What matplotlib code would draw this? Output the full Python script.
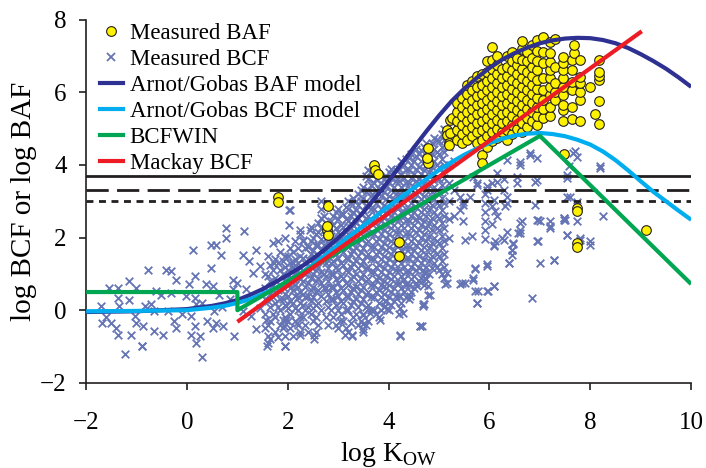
## log BCF / log BAF vs log Kow with model curves

import numpy as np
import matplotlib
matplotlib.use('Agg')
import matplotlib.pyplot as plt
from matplotlib.lines import Line2D

plt.rcParams['font.family'] = ['Liberation Serif', 'DejaVu Serif']
plt.rcParams['mathtext.fontset'] = 'custom'
plt.rcParams['mathtext.rm'] = 'Liberation Serif'

### model curves
baf_model_x = [-2, -1, 0, 0.5, 0.75, 1, 1.25, 1.5, 1.75, 2, 2.25, 2.5, 2.75, 3, 3.25, 3.5, 3.75, 4, 4.25, 4.5,
               4.75, 5, 5.25, 5.5, 5.75, 6, 6.25, 6.5, 6.75, 7, 7.25, 7.5, 7.75, 8, 8.25, 8.5, 8.75, 9, 9.25,
               9.5, 9.75, 10]
baf_model_y = [-0.05, -0.03, 0.03, 0.12, 0.19, 0.28, 0.42, 0.58, 0.77, 0.97, 1.18, 1.42, 1.69, 1.99, 2.32, 2.7,
               3.12, 3.56, 4.02, 4.48, 4.93, 5.36, 5.76, 6.1, 6.4, 6.67, 6.9, 7.08, 7.23, 7.35, 7.43, 7.48, 7.5,
               7.49, 7.44, 7.35, 7.22, 7.05, 6.86, 6.65, 6.41, 6.15]
bcf_model_x = [-2, -1, 0, 0.5, 0.75, 1, 1.25, 1.5, 1.75, 2, 2.25, 2.5, 2.75, 3, 3.5, 4, 4.5, 5, 5.25, 5.5, 5.75,
               6, 6.25, 6.5, 6.75, 7, 7.25, 7.5, 7.75, 8, 8.25, 8.5, 8.75, 9, 9.25, 9.5, 9.75, 10]
bcf_model_y = [-0.03, -0.02, 0.0, 0.07, 0.12, 0.2, 0.3, 0.45, 0.6, 0.8, 1.0, 1.25, 1.52, 1.8, 2.33, 2.86, 3.37,
               3.86, 4.08, 4.28, 4.45, 4.6, 4.72, 4.81, 4.86, 4.88, 4.85, 4.79, 4.69, 4.56, 4.37, 4.13, 3.85,
               3.55, 3.26, 3.0, 2.74, 2.49]
bcfwin_x = [-2, 1, 1, 7, 10]
bcfwin_y = [0.5, 0.5, 0.0, 4.8, 0.72]
mackay_x = [1, 9.02]
mackay_y = [-0.32, 7.68]

### regulatory thresholds
threshold_solid = 3.7
threshold_dashed = 3.3
threshold_dotted = 3.0

### measured BCF (estimated from the figure)
bcf_pts = [
    # sparse, low Kow
    (-1.70, 0.11), (-1.68, -0.35), (-1.54, 0.61), (-1.37, 0.61), (-1.37, 0.34), (-1.34, 0.11),
    (-1.50, -0.35), (-1.41, -0.48), (-1.37, -0.67), (-1.15, 0.80), (-1.01, 0.61), (-1.14, 0.29),
    (-1.04, -0.16), (-1.01, -0.35), (-1.11, -0.67), (-0.88, -0.44), (-0.84, 0.11), (-1.22, -1.22),
    (-0.89, -0.99), (-0.78, 1.12), (-0.71, 0.16), (-0.65, -0.03), (-0.61, 0.52), (-0.65, -0.58),
    (-0.48, -0.67), (-0.41, 1.12), (-0.31, 1.07), (-0.22, 0.84), (-0.51, 0.43), (-0.31, 0.48),
    (-0.25, -0.30), (-0.22, -0.48), (-0.38, -0.03), (-0.02, 0.38), (0.05, 0.71), (0.15, 0.93),
    (0.11, 1.67), (0.15, 0.34), (0.18, 0.16), (0.08, -0.16), (0.15, -0.44), (0.25, -0.71),
    (0.08, -0.67), (0.18, -0.90), (0.29, -1.29), (0.48, 1.80), (0.58, 1.80), (0.68, 1.53),
    (0.78, 2.26), (0.78, 1.99), (0.48, 1.16), (0.38, 0.71), (0.51, 0.66), (0.64, 0.43),
    (0.54, -0.03), (0.58, -0.35), (0.51, -0.48), (0.71, -0.44), (0.94, -0.71), (0.91, 0.84),
    (0.91, 0.57), (1.14, 2.17), (1.11, 1.53), (1.24, 1.35), (1.37, 1.67), (1.30, 1.03),
    (1.44, 1.21), (1.17, 0.57), (1.27, -0.16), (1.37, -0.53), (1.60, -0.71), (1.60, -0.90),
    (1.95, -0.99), (1.70, 1.85), (1.80, 1.90), (1.60, 1.48), (1.73, 1.30), (2.03, 2.77),
    (2.03, 2.35), (1.97, -0.26), (1.93, -0.44), (1.57, -0.26), (1.44, 0.07), (1.97, 0.11),
    (1.97, 0.84), (2.10, 1.30), (1.11, -0.03), (-0.90, -0.99), (1.58, -0.99), (0.30, 0.20),
    (0.70, 0.10), (0.85, 0.30), (1.00, 0.75), (-1.60, -0.20), (-0.10, -0.10), (0.40, -0.30),
    # dense cloud
    (1.55, -0.5), (1.55, -0.1), (1.55, 0.3), (1.55, 0.6), (1.55, 1.0),
    (1.65, -0.8), (1.65, -0.3), (1.65, 0.1), (1.65, 0.45), (1.65, 0.8), (1.65, 1.25),
    (1.75, -0.6), (1.75, -0.2), (1.75, 0.2), (1.75, 0.5), (1.75, 0.9), (1.75, 1.4),
    (1.85, -0.4), (1.85, 0.0), (1.85, 0.3), (1.85, 0.7), (1.85, 1.1), (1.85, 1.6),
    (1.95, -0.7), (1.95, -0.2), (1.95, 0.15), (1.95, 0.45), (1.95, 0.8), (1.95, 1.2), (1.95, 1.5), (1.95, 2.0),
    (2.05, -0.5), (2.05, -0.1), (2.05, 0.25), (2.05, 0.6), (2.05, 0.9), (2.05, 1.3), (2.05, 1.7),
    (2.15, -0.3), (2.15, 0.05), (2.15, 0.4), (2.15, 0.7), (2.15, 1.0), (2.15, 1.4), (2.15, 1.9),
    (2.25, -0.6), (2.25, -0.2), (2.25, 0.2), (2.25, 0.5), (2.25, 0.85), (2.25, 1.15), (2.25, 1.5), (2.25, 2.1),
    (2.35, -0.4), (2.35, 0.0), (2.35, 0.35), (2.35, 0.65), (2.35, 1.0), (2.35, 1.3), (2.35, 1.7),
    (2.45, -0.1), (2.45, 0.25), (2.45, 0.55), (2.45, 0.9), (2.45, 1.2), (2.45, 1.55), (2.45, 1.9), (2.45, 2.3),
    (2.55, -0.6), (2.55, -0.2), (2.55, 0.15), (2.55, 0.5), (2.55, 0.8), (2.55, 1.1), (2.55, 1.45), (2.55, 1.8), (2.55, 2.1),
    (2.65, 0.0), (2.65, 0.4), (2.65, 0.75), (2.65, 1.05), (2.65, 1.35), (2.65, 1.65), (2.65, 1.95), (2.65, 2.25),
    (2.65, 2.55), (2.65, 2.8), (2.65, 3.0),
    (2.72, 0.6), (2.72, 1.0), (2.72, 1.4), (2.72, 1.8), (2.72, 2.2), (2.72, 2.6),
    (2.8, -0.4), (2.8, 0.1), (2.8, 0.45), (2.8, 0.8), (2.8, 1.15), (2.8, 1.5), (2.8, 1.85), (2.8, 2.2),
    (2.9, -0.2), (2.9, 0.3), (2.9, 0.65), (2.9, 1.0), (2.9, 1.35), (2.9, 1.7), (2.9, 2.0), (2.9, 2.35), (2.9, 2.6),
    (3.0, -0.5), (3.0, 0.0), (3.0, 0.4), (3.0, 0.75), (3.0, 1.1), (3.0, 1.45), (3.0, 1.8), (3.0, 2.15), (3.0, 2.5), (3.0, 2.8),
    (3.1, -0.3), (3.1, 0.2), (3.1, 0.55), (3.1, 0.9), (3.1, 1.25), (3.1, 1.6), (3.1, 1.95), (3.1, 2.3), (3.1, 2.65),
    (3.2, -0.6), (3.2, 0.0), (3.2, 0.35), (3.2, 0.7), (3.2, 1.05), (3.2, 1.4), (3.2, 1.75), (3.2, 2.1), (3.2, 2.45),
    (3.2, 2.8), (3.2, 3.0),
    (3.3, -0.2), (3.3, 0.25), (3.3, 0.6), (3.3, 0.95), (3.3, 1.3), (3.3, 1.65), (3.3, 2.0), (3.3, 2.35), (3.3, 2.7), (3.3, 3.1),
    (3.4, -0.4), (3.4, 0.1), (3.4, 0.45), (3.4, 0.8), (3.4, 1.15), (3.4, 1.5), (3.4, 1.85), (3.4, 2.2), (3.4, 2.55),
    (3.4, 2.9), (3.4, 3.2),
    (3.5, -0.6), (3.5, -0.1), (3.5, 0.3), (3.5, 0.65), (3.5, 1.0), (3.5, 1.35), (3.5, 1.7), (3.5, 2.05), (3.5, 2.4),
    (3.5, 2.75), (3.5, 3.1), (3.5, 3.4),
    (3.6, -0.3), (3.6, 0.15), (3.6, 0.5), (3.6, 0.85), (3.6, 1.2), (3.6, 1.55), (3.6, 1.9), (3.6, 2.25), (3.6, 2.6),
    (3.6, 2.95), (3.6, 3.3), (3.6, 3.6), (3.6, 3.85),
    (3.7, 0.0), (3.7, 0.35), (3.7, 0.7), (3.7, 1.05), (3.7, 1.4), (3.7, 1.75), (3.7, 2.1), (3.7, 2.45), (3.7, 2.8),
    (3.7, 3.15), (3.7, 3.5),
    (3.8, -0.2), (3.8, 0.2), (3.8, 0.55), (3.8, 0.9), (3.8, 1.25), (3.8, 1.6), (3.8, 1.95), (3.8, 2.3), (3.8, 2.65),
    (3.8, 3.0), (3.8, 3.35),
    (3.9, 0.1), (3.9, 0.45), (3.9, 0.8), (3.9, 1.15), (3.9, 1.5), (3.9, 1.85), (3.9, 2.2), (3.9, 2.55), (3.9, 2.9),
    (3.9, 3.25), (3.9, 3.6),
    (4.0, 0.0), (4.0, 0.35), (4.0, 0.7), (4.0, 1.05), (4.0, 1.4), (4.0, 1.75), (4.0, 2.1), (4.0, 2.45), (4.0, 2.8),
    (4.0, 3.15), (4.0, 3.5), (4.0, 3.8),
    (4.1, 0.25), (4.1, 0.6), (4.1, 0.95), (4.1, 1.3), (4.1, 1.65), (4.1, 2.0), (4.1, 2.35), (4.1, 2.7), (4.1, 3.05),
    (4.1, 3.4), (4.1, 3.75),
    (4.2, -0.1), (4.2, 0.4), (4.2, 0.75), (4.2, 1.1), (4.2, 1.45), (4.2, 1.8), (4.2, 2.15), (4.2, 2.5), (4.2, 2.85),
    (4.2, 3.2), (4.2, 3.55), (4.2, 3.9),
    (4.3, 0.5), (4.3, 0.85), (4.3, 1.2), (4.3, 1.55), (4.3, 1.9), (4.3, 2.25), (4.3, 2.6), (4.3, 2.95), (4.3, 3.3),
    (4.3, 3.65), (4.3, 4.0),
    (4.4, 0.3), (4.4, 0.7), (4.4, 1.05), (4.4, 1.4), (4.4, 1.75), (4.4, 2.1), (4.4, 2.45), (4.4, 2.8), (4.4, 3.15),
    (4.4, 3.5), (4.4, 3.85), (4.4, 4.2),
    (4.5, 0.6), (4.5, 0.95), (4.5, 1.3), (4.5, 1.65), (4.5, 2.0), (4.5, 2.35), (4.5, 2.7), (4.5, 3.05), (4.5, 3.4),
    (4.5, 3.75), (4.5, 4.1),
    (4.6, 0.8), (4.6, 1.15), (4.6, 1.5), (4.6, 1.85), (4.6, 2.2), (4.6, 2.55), (4.6, 2.9), (4.6, 3.25), (4.6, 3.6),
    (4.6, 3.95), (4.6, 4.3),
    (4.7, 0.7), (4.7, 1.05), (4.7, 1.4), (4.7, 1.75), (4.7, 2.1), (4.7, 2.45), (4.7, 2.8), (4.7, 3.15), (4.7, 3.5),
    (4.7, 3.85), (4.7, 4.2), (4.7, 4.5),
    (4.8, 1.0), (4.8, 1.35), (4.8, 1.7), (4.8, 2.05), (4.8, 2.4), (4.8, 2.75), (4.8, 3.1), (4.8, 3.45), (4.8, 3.8),
    (4.8, 4.15), (4.8, 4.5),
    (4.9, 1.3), (4.9, 1.65), (4.9, 2.0), (4.9, 2.35), (4.9, 2.7), (4.9, 3.05), (4.9, 3.4), (4.9, 3.75), (4.9, 4.1),
    (4.9, 4.45), (4.9, 4.75),
    (5.0, 1.1), (5.0, 1.5), (5.0, 1.85), (5.0, 2.2), (5.0, 2.55), (5.0, 2.9), (5.0, 3.25), (5.0, 3.6), (5.0, 3.95),
    (5.0, 4.3), (5.0, 4.65),
    (5.1, 0.9), (5.1, 1.2), (5.1, 1.55), (5.1, 1.9), (5.1, 2.25), (5.1, 2.6), (5.1, 2.95), (5.1, 3.3), (5.1, 3.65),
    (5.1, 4.0), (5.1, 4.35), (5.1, 4.7), (5.1, 5.0),
    (5.2, 2.0), (5.2, 2.5), (5.2, 3.0), (5.2, 3.5), (5.2, 4.0), (5.2, 4.5),
    (5.3, 2.6), (5.3, 3.3), (5.3, 4.1),
    (5.91, 1.95), (5.91, 2.2), (5.91, 2.45), (5.91, 2.7), (5.91, 2.95), (5.91, 3.2),
    # dense cloud, in-between columns
    (1.6, -0.4), (1.6, 0.25), (1.6, 0.95),
    (1.7, -0.1), (1.7, 0.35), (1.7, 0.7), (1.7, 1.1),
    (1.8, -0.75), (1.8, 0.1), (1.8, 0.55), (1.8, 1.3),
    (1.9, -0.5), (1.9, 0.3), (1.9, 0.65), (1.9, 1.0), (1.9, 1.35),
    (2.0, -0.3), (2.0, 0.05), (2.0, 0.4), (2.0, 0.75), (2.0, 1.1), (2.0, 1.5),
    (2.1, -0.7), (2.1, 0.2), (2.1, 0.55), (2.1, 0.85), (2.1, 1.2), (2.1, 1.6),
    (2.2, -0.4), (2.2, 0.0), (2.2, 0.35), (2.2, 0.65), (2.2, 1.0), (2.2, 1.3), (2.2, 1.7),
    (2.3, -0.2), (2.3, 0.15), (2.3, 0.45), (2.3, 0.8), (2.3, 1.1), (2.3, 1.45), (2.3, 1.9),
    (2.4, -0.6), (2.4, 0.1), (2.4, 0.4), (2.4, 0.75), (2.4, 1.05), (2.4, 1.4), (2.4, 1.75),
    (2.5, -0.3), (2.5, 0.05), (2.5, 0.35), (2.5, 0.65), (2.5, 1.0), (2.5, 1.3), (2.5, 1.65), (2.5, 2.0),
    (2.6, -0.4), (2.6, 0.2), (2.6, 0.55), (2.6, 0.9), (2.6, 1.2), (2.6, 1.5), (2.6, 1.8), (2.6, 2.15), (2.6, 2.4),
    (2.75, -0.2), (2.75, 0.25), (2.75, 0.6), (2.75, 0.95), (2.75, 1.3), (2.75, 1.65), (2.75, 2.0), (2.75, 2.4), (2.75, 2.9),
    (2.85, 0.0), (2.85, 0.3), (2.85, 0.65), (2.85, 1.0), (2.85, 1.3), (2.85, 1.65), (2.85, 2.05), (2.85, 2.45),
    (2.95, -0.4), (2.95, 0.15), (2.95, 0.5), (2.95, 0.85), (2.95, 1.2), (2.95, 1.55), (2.95, 1.9), (2.95, 2.25), (2.95, 2.7),
    (3.05, -0.1), (3.05, 0.25), (3.05, 0.6), (3.05, 0.95), (3.05, 1.3), (3.05, 1.65), (3.05, 2.0), (3.05, 2.35), (3.05, 2.65),
    (3.15, -0.5), (3.15, 0.0), (3.15, 0.4), (3.15, 0.75), (3.15, 1.1), (3.15, 1.45), (3.15, 1.8), (3.15, 2.15),
    (3.15, 2.5), (3.15, 2.85),
    (3.25, -0.35), (3.25, 0.15), (3.25, 0.5), (3.25, 0.85), (3.25, 1.2), (3.25, 1.55), (3.25, 1.9), (3.25, 2.25),
    (3.25, 2.6), (3.25, 2.95),
    (3.35, -0.1), (3.35, 0.3), (3.35, 0.65), (3.35, 1.0), (3.35, 1.35), (3.35, 1.7), (3.35, 2.05), (3.35, 2.4),
    (3.35, 2.75), (3.35, 3.0),
    (3.45, -0.3), (3.45, 0.2), (3.45, 0.55), (3.45, 0.9), (3.45, 1.25), (3.45, 1.6), (3.45, 1.95), (3.45, 2.3),
    (3.45, 2.65), (3.45, 3.0), (3.45, 3.3),
    (3.55, -0.4), (3.55, 0.1), (3.55, 0.45), (3.55, 0.8), (3.55, 1.15), (3.55, 1.5), (3.55, 1.85), (3.55, 2.2),
    (3.55, 2.55), (3.55, 2.9), (3.55, 3.25), (3.55, 3.7),
    (3.65, 0.0), (3.65, 0.35), (3.65, 0.7), (3.65, 1.05), (3.65, 1.4), (3.65, 1.75), (3.65, 2.1), (3.65, 2.45),
    (3.65, 2.8), (3.65, 3.15), (3.65, 3.45), (3.65, 3.8),
    (3.75, -0.1), (3.75, 0.5), (3.75, 0.85), (3.75, 1.2), (3.75, 1.55), (3.75, 1.9), (3.75, 2.25), (3.75, 2.6),
    (3.75, 2.95), (3.75, 3.3), (3.75, 3.6),
    (3.85, 0.0), (3.85, 0.35), (3.85, 0.7), (3.85, 1.05), (3.85, 1.4), (3.85, 1.75), (3.85, 2.1), (3.85, 2.45),
    (3.85, 2.8), (3.85, 3.15), (3.85, 3.5),
    (3.95, 0.25), (3.95, 0.6), (3.95, 0.95), (3.95, 1.3), (3.95, 1.65), (3.95, 2.0), (3.95, 2.35), (3.95, 2.7),
    (3.95, 3.05), (3.95, 3.4), (3.95, 3.7),
    (4.05, 0.15), (4.05, 0.5), (4.05, 0.85), (4.05, 1.2), (4.05, 1.55), (4.05, 1.9), (4.05, 2.25), (4.05, 2.6),
    (4.05, 2.95), (4.05, 3.3), (4.05, 3.65), (4.05, 3.9),
    (4.15, 0.4), (4.15, 0.75), (4.15, 1.1), (4.15, 1.45), (4.15, 1.8), (4.15, 2.15), (4.15, 2.5), (4.15, 2.85),
    (4.15, 3.2), (4.15, 3.55), (4.15, 3.85),
    (4.25, 0.2), (4.25, 0.6), (4.25, 0.95), (4.25, 1.3), (4.25, 1.65), (4.25, 2.0), (4.25, 2.35), (4.25, 2.7),
    (4.25, 3.05), (4.25, 3.4), (4.25, 3.75), (4.25, 4.1),
    (4.35, 0.35), (4.35, 0.7), (4.35, 1.05), (4.35, 1.4), (4.35, 1.75), (4.35, 2.1), (4.35, 2.45), (4.35, 2.8),
    (4.35, 3.15), (4.35, 3.5), (4.35, 3.85), (4.35, 4.15),
    (4.45, 0.5), (4.45, 0.85), (4.45, 1.2), (4.45, 1.55), (4.45, 1.9), (4.45, 2.25), (4.45, 2.6), (4.45, 2.95),
    (4.45, 3.3), (4.45, 3.65), (4.45, 4.0), (4.45, 4.3),
    (4.55, 0.75), (4.55, 1.1), (4.55, 1.45), (4.55, 1.8), (4.55, 2.15), (4.55, 2.5), (4.55, 2.85), (4.55, 3.2),
    (4.55, 3.55), (4.55, 3.9), (4.55, 4.25), (4.55, 4.45),
    (4.65, 0.9), (4.65, 1.3), (4.65, 1.65), (4.65, 2.0), (4.65, 2.35), (4.65, 2.7), (4.65, 3.05), (4.65, 3.4),
    (4.65, 3.75), (4.65, 4.1), (4.65, 4.4),
    (4.75, 0.85), (4.75, 1.2), (4.75, 1.55), (4.75, 1.9), (4.75, 2.25), (4.75, 2.6), (4.75, 2.95), (4.75, 3.3),
    (4.75, 3.65), (4.75, 4.0), (4.75, 4.35), (4.75, 4.6),
    (4.85, 1.15), (4.85, 1.5), (4.85, 1.85), (4.85, 2.2), (4.85, 2.55), (4.85, 2.9), (4.85, 3.25), (4.85, 3.6),
    (4.85, 3.95), (4.85, 4.3), (4.85, 4.6),
    (4.95, 1.2), (4.95, 1.55), (4.95, 1.9), (4.95, 2.25), (4.95, 2.6), (4.95, 2.95), (4.95, 3.3), (4.95, 3.65),
    (4.95, 4.0), (4.95, 4.35), (4.95, 4.7),
    (5.05, 1.0), (5.05, 1.35), (5.05, 1.7), (5.05, 2.05), (5.05, 2.4), (5.05, 2.75), (5.05, 3.1), (5.05, 3.45),
    (5.05, 3.8), (5.05, 4.15), (5.05, 4.5), (5.05, 4.85),
    # outliers low in the dense range
    (1.95, -0.99), (2.24, -0.67), (2.51, -0.67), (2.51, -0.80), (3.14, -0.67), (3.27, -0.67), (3.50, -0.39),
    (3.83, -0.26), (3.63, -0.07), (4.23, -0.67), (4.62, -0.44), (4.69, 0.16), (3.96, 0.02), (4.29, -0.07),
    (3.04, -0.30), (2.18, -0.35), (1.91, -0.26), (2.05, 2.77), (2.24, 2.22), (2.44, 2.22), (2.31, 1.94),
    (3.27, -0.71), (3.50, -0.53), (3.50, -0.12), (3.93, 0.11), (4.23, 0.07), (4.69, 0.11), (4.79, 0.43),
    (4.43, 0.39), (4.23, 0.39), (3.93, 0.25), (4.56, 0.66), (4.79, 0.66), (4.29, 0.84), (4.72, 1.03),
    (3.90, 0.66), (4.23, -0.71), (4.62, -0.44),
    # sparse, high Kow
    (4.69, 1.12), (4.72, 0.89), (4.82, 0.43), (4.70, 0.16), (4.66, -0.44), (5.12, 0.71), (5.42, 0.71),
    (5.52, 0.75), (5.68, 0.89), (5.71, 1.16), (5.95, 1.23), (5.78, 0.52), (5.75, 0.20), (5.98, 0.52),
    (6.08, 0.66), (6.38, 1.30), (6.44, 1.67), (6.47, 1.81), (6.44, 1.53), (6.61, 2.13), (6.61, 2.40),
    (6.84, 0.34), (6.97, 1.90), (7.00, 1.30), (6.97, 2.49), (7.00, 2.45), (7.20, 2.45), (7.20, 2.26),
    (7.27, 1.39), (7.47, 2.54), (7.53, 2.08), (5.52, 1.94), (5.65, 2.03), (6.08, 1.76), (6.11, 1.90),
    (6.24, 1.99), (6.05, 2.36), (6.14, 2.58), (6.11, 2.72), (6.05, 2.86), (5.48, 2.45), (5.42, 2.77),
    (5.48, 2.90), (6.31, 2.86), (6.34, 3.13), (6.28, 3.32), (6.54, 3.50), (6.54, 3.68), (6.61, 4.09),
    (6.90, 3.54), (6.90, 2.90), (6.81, 4.28), (6.94, 4.19), (6.64, 2.45), (5.95, 3.41), (6.05, 3.50),
    (6.14, 3.54), (5.68, 3.68), (5.75, 3.50), (5.42, 3.13), (5.48, 2.99), (5.61, 3.13),
    (7.70, 4.37), (7.73, 4.23), (7.57, 3.96), (7.53, 3.73), (8.19, 3.91), (7.60, 3.13), (7.73, 2.99),
    (7.47, 2.54), (7.50, 2.49), (7.73, 2.45), (8.25, 2.60), (7.53, 2.08), (7.80, 1.99), (7.99, 1.90),
    (7.99, 1.80), (7.73, 2.86), (5.75, 0.20), (5.95, 0.52), (5.71, 0.52), (5.45, 0.75), (5.15, 0.75),
    (5.15, 1.03), (5.68, 0.84), (6.08, 0.66), (5.95, 1.26), (5.71, 1.14), (6.38, 1.30), (7.27, 1.39),
    (6.47, 1.85), (6.44, 1.67), (6.08, 1.80), (6.28, 1.94), (6.57, 2.13), (6.94, 1.90), (7.80, 1.94),
    (6.81, 4.33), (7.66, 4.33), (7.53, 3.64), (6.94, 3.59), (8.19, 3.96), (6.61, 4.00), (6.34, 4.14),
    (6.14, 3.77), (6.28, 3.60), (6.08, 3.04), (6.34, 2.95), (5.75, 3.45), (5.95, 3.30), (7.53, 3.13),
    (6.94, 2.49), (7.20, 2.31), (7.47, 2.49), (6.61, 2.22), (6.34, 2.15),
]

### measured BAF (estimated from the figure)
baf_pts = [
    (1.80, 3.13), (1.80, 2.97), (2.80, 2.86), (2.77, 2.22), (2.80, 2.08), (2.77, 2.31), (3.70, 4.00),
    (3.73, 3.87), (3.78, 3.75), (4.21, 1.87), (4.21, 1.50), (4.79, 4.46), (4.79, 4.05), (4.76, 4.20),
    (5.15, 4.96), (5.15, 4.83), (5.19, 4.60), (5.22, 5.24), (5.85, 4.28), (5.85, 4.05), (7.73, 2.81),
    (7.73, 2.72), (7.73, 1.85), (7.73, 1.74), (9.11, 2.20), (7.47, 4.30), (5.42, 5.79), (5.25, 5.28),
    (5.22, 4.87), (5.19, 4.55),
    (5.35, 4.7), (5.35, 4.95), (5.35, 5.2), (5.35, 5.45), (5.35, 5.7),
    (5.45, 4.6), (5.45, 4.85), (5.45, 5.1), (5.45, 5.35), (5.45, 5.6), (5.45, 5.85),
    (5.55, 4.7), (5.55, 4.95), (5.55, 5.2), (5.55, 5.45), (5.55, 5.7), (5.55, 5.95), (5.55, 6.2),
    (5.65, 4.8), (5.65, 5.05), (5.65, 5.3), (5.65, 5.55), (5.65, 5.8), (5.65, 6.05), (5.65, 6.3),
    (5.75, 4.6), (5.75, 4.9), (5.75, 5.15), (5.75, 5.4), (5.75, 5.65), (5.75, 5.9), (5.75, 6.15), (5.75, 6.45),
    (5.85, 4.7), (5.85, 4.95), (5.85, 5.2), (5.85, 5.45), (5.85, 5.7), (5.85, 5.95), (5.85, 6.2), (5.85, 6.5),
    (5.95, 4.5), (5.95, 4.8), (5.95, 5.05), (5.95, 5.3), (5.95, 5.55), (5.95, 5.8), (5.95, 6.05), (5.95, 6.3),
    (5.95, 6.55), (5.95, 6.85),
    (6.05, 4.65), (6.05, 4.9), (6.05, 5.15), (6.05, 5.4), (6.05, 5.65), (6.05, 5.9), (6.05, 6.15), (6.05, 6.4),
    (6.05, 6.65), (6.05, 6.9), (6.05, 7.25),
    (6.15, 4.75), (6.15, 5.0), (6.15, 5.25), (6.15, 5.5), (6.15, 5.75), (6.15, 6.0), (6.15, 6.25), (6.15, 6.5),
    (6.15, 6.75), (6.15, 7.0),
    (6.25, 4.9), (6.25, 5.15), (6.25, 5.4), (6.25, 5.65), (6.25, 5.9), (6.25, 6.15), (6.25, 6.4), (6.25, 6.65),
    (6.35, 4.7), (6.35, 4.95), (6.35, 5.2), (6.35, 5.45), (6.35, 5.7), (6.35, 5.95), (6.35, 6.2), (6.35, 6.45),
    (6.35, 6.7), (6.35, 7.0),
    (6.45, 4.85), (6.45, 5.1), (6.45, 5.35), (6.45, 5.6), (6.45, 5.85), (6.45, 6.1), (6.45, 6.35), (6.45, 6.6),
    (6.45, 6.85), (6.45, 7.1),
    (6.55, 5.0), (6.55, 5.25), (6.55, 5.5), (6.55, 5.75), (6.55, 6.0), (6.55, 6.25), (6.55, 6.5), (6.55, 6.75), (6.55, 6.95),
    (6.65, 4.9), (6.65, 5.15), (6.65, 5.4), (6.65, 5.65), (6.65, 5.9), (6.65, 6.15), (6.65, 6.4), (6.65, 6.65),
    (6.65, 6.9), (6.65, 7.2), (6.65, 7.4),
    (6.75, 5.05), (6.75, 5.3), (6.75, 5.55), (6.75, 5.8), (6.75, 6.05), (6.75, 6.3), (6.75, 6.55), (6.75, 6.85), (6.75, 7.1),
    (6.85, 5.2), (6.85, 5.45), (6.85, 5.7), (6.85, 5.95), (6.85, 6.2), (6.85, 6.45), (6.85, 6.7), (6.85, 6.95), (6.85, 7.3),
    (6.95, 5.1), (6.95, 5.35), (6.95, 5.6), (6.95, 5.85), (6.95, 6.1), (6.95, 6.35), (6.95, 6.6), (6.95, 6.85),
    (6.95, 7.15), (6.95, 7.45),
    (7.07, 5.3), (7.07, 5.55), (7.07, 5.8), (7.07, 6.05), (7.07, 6.38), (7.07, 6.8), (7.07, 7.1), (7.07, 7.53),
    (7.2, 5.35), (7.2, 5.6), (7.2, 5.93), (7.2, 6.15), (7.2, 6.38), (7.2, 6.61), (7.2, 6.84), (7.2, 7.07), (7.2, 7.39),
    (7.3, 5.79), (7.3, 6.02), (7.3, 6.25), (7.3, 6.7), (7.3, 7.48),
    (7.45, 5.22), (7.45, 5.51), (7.45, 5.65), (7.45, 5.93), (7.45, 6.15), (7.45, 6.38), (7.45, 6.61), (7.45, 6.8), (7.45, 6.98),
    (7.63, 5.27), (7.63, 5.6), (7.63, 6.06), (7.63, 6.29), (7.63, 6.61), (7.63, 6.89), (7.67, 7.07), (7.67, 7.3),
    (7.8, 5.22), (7.8, 5.79), (7.8, 6.02), (7.8, 6.25), (7.8, 6.43), (7.8, 6.89),
    (8.0, 6.15), (8.09, 5.39), (8.18, 5.12), (8.18, 5.76), (8.18, 6.34), (8.18, 6.46), (8.18, 6.57), (8.18, 6.89),
]

bcf_x, bcf_y = np.array(bcf_pts).T
baf_x, baf_y = np.array(baf_pts).T

fig = plt.figure(figsize=(7.06, 4.68), dpi=100)
ax = fig.add_axes([0.122, 0.182, 0.857, 0.776])

ink = '#231f20'
cross_col = '#6574b4'

ax.scatter(bcf_x, bcf_y, marker='x', s=30, linewidths=1.3, color=cross_col, zorder=1)

ax.axhline(threshold_solid, color=ink, lw=2.0, zorder=2)
ax.axhline(threshold_dashed, color=ink, lw=2.0, dashes=(8, 3), zorder=2)
ax.axhline(threshold_dotted, color=ink, lw=2.0, dashes=(2.5, 2), zorder=2)

ax.scatter(baf_x, baf_y, marker='o', s=48, facecolor='#fff200', edgecolor=ink, linewidths=0.8, zorder=3)

ax.plot(baf_model_x, baf_model_y, color='#2e3192', lw=3, zorder=4, solid_capstyle='butt')
ax.plot(bcf_model_x, bcf_model_y, color='#00aeef', lw=3, zorder=5, solid_capstyle='butt')
ax.plot(bcfwin_x, bcfwin_y, color='#00a651', lw=3, zorder=6, solid_capstyle='butt')
ax.plot(mackay_x, mackay_y, color='#ed1c24', lw=3, zorder=7, solid_capstyle='butt')

ax.set_xlim(-2, 10)
ax.set_ylim(-2, 8)
ax.set_xticks([-2, 0, 2, 4, 6, 8, 10])
ax.set_yticks([-2, 0, 2, 4, 6, 8])

for s in ['top', 'right']:
    ax.spines[s].set_visible(False)
for s in ['left', 'bottom']:
    ax.spines[s].set_color(ink)
    ax.spines[s].set_linewidth(1.2)

ax.tick_params(axis='both', direction='out', length=5, width=1.2, color=ink, labelsize=18)
ax.tick_params(axis='x', pad=16)
ax.tick_params(axis='y', pad=9)

### put name of each axis
ax.set_xlabel(r'log K$_{\mathrm{OW}}$', fontsize=20, labelpad=4)
ax.set_ylabel('log BCF or log BAF', fontsize=21, labelpad=2)

handles = [
    Line2D([], [], ls='none', marker='o', markersize=7, markerfacecolor='#fff200', markeredgecolor=ink, markeredgewidth=0.8),
    Line2D([], [], ls='none', marker='x', markersize=6, markeredgewidth=1.3, color=cross_col),
    Line2D([], [], color='#2e3192', lw=3),
    Line2D([], [], color='#00aeef', lw=3),
    Line2D([], [], color='#00a651', lw=3),
    Line2D([], [], color='#ed1c24', lw=3),
]
labels = ['Measured BAF', 'Measured BCF', 'Arnot/Gobas BAF model', 'Arnot/Gobas BCF model', 'BCFWIN', 'Mackay BCF']
ax.legend(handles, labels, loc='upper left', bbox_to_anchor=(0.0, 1.03), frameon=False, fontsize=16.5,
          handlelength=1.0, handletextpad=0.3, labelspacing=0.22, borderaxespad=0.2)

fig.savefig('out.png', dpi=100)
